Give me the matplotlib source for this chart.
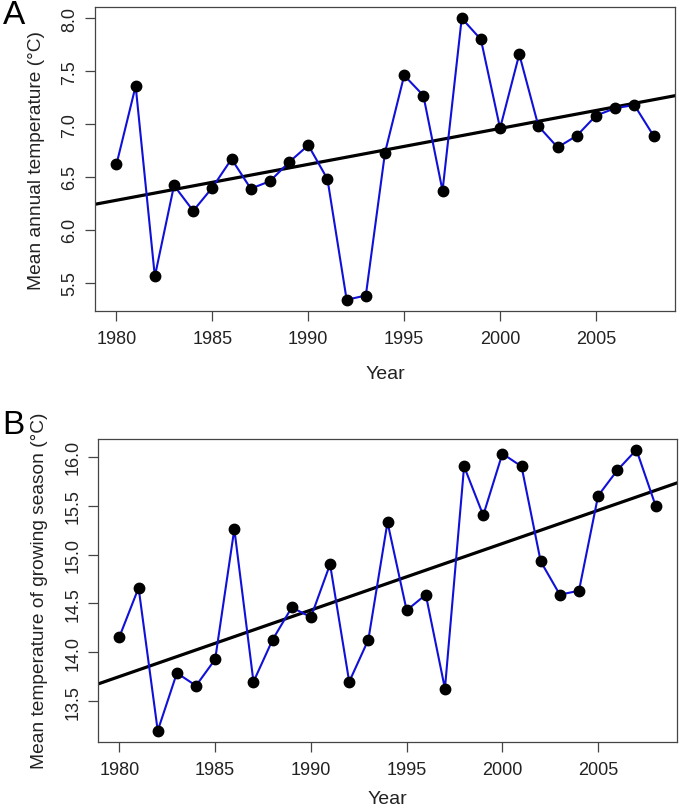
import numpy as np
import matplotlib
matplotlib.use('Agg')
import matplotlib.pyplot as plt

plt.rcParams['font.family'] = ['Liberation Sans', 'DejaVu Sans']

###===========================================================
# data
years = np.arange(1980, 2009)

annual_temp = [6.62, 7.36, 5.56, 6.42, 6.18, 6.40, 6.67, 6.39, 6.46, 6.64,
               6.80, 6.48, 5.34, 5.38, 6.73, 7.46, 7.27, 6.37, 8.00, 7.80,
               6.96, 7.66, 6.98, 6.78, 6.89, 7.08, 7.15, 7.18, 6.89]

growing_temp = [14.16, 14.66, 13.20, 13.79, 13.66, 13.93, 15.26, 13.70, 14.13, 14.46,
                14.36, 14.90, 13.70, 14.13, 15.33, 14.43, 14.59, 13.63, 15.90, 15.40,
                16.03, 15.90, 14.93, 14.59, 14.63, 15.60, 15.86, 16.07, 15.50]

xticks = [1980, 1985, 1990, 1995, 2000, 2005]
yticks_a = [5.5, 6.0, 6.5, 7.0, 7.5, 8.0]
yticks_b = [13.5, 14.0, 14.5, 15.0, 15.5, 16.0]

ylabel_a = 'Mean annual temperature (°C)'
ylabel_b = 'Mean temperature of growing season (°C)'


###===========================================================
def r_range(lo, hi):
    # R style 4% axis extension
    d = (hi - lo) * 0.04
    return lo - d, hi + d


def panel(ax, x, y, yticks, ylabel, xpad=13):
    x = np.asarray(x, float)
    y = np.asarray(y, float)
    xl = r_range(x.min(), x.max())
    yl = r_range(y.min(), y.max())

    # regression line across the whole plot area
    b, a = np.polyfit(x, y, 1)
    xx = np.array(xl)
    ax.plot(xx, a + b * xx, color='black', lw=2.3, zorder=2)

    ax.plot(x, y, color='#1010d8', lw=1.5, zorder=3)
    ax.plot(x, y, 'o', color='black', ms=7.5, zorder=4)

    ax.set_xlim(xl)
    ax.set_ylim(yl)
    ax.set_xticks(xticks)
    ax.set_yticks(yticks)
    ax.set_yticklabels(['%.1f' % v for v in yticks], rotation=90, va='center')
    ax.tick_params(direction='out', length=7, width=0.9, color='#444444',
                   labelsize=13, labelcolor='#222222', pad=5)
    ax.tick_params(axis='x', pad=7)
    for s in ax.spines.values():
        s.set_color('#444444')
        s.set_linewidth(0.9)
    ax.set_xlabel('Year', fontsize=14, color='#222222', labelpad=xpad)
    ax.set_ylabel(ylabel, fontsize=13.8, color='#222222', labelpad=12)


fig = plt.figure(figsize=(6.8, 8.12), dpi=100)

ax1 = fig.add_axes([95 / 680, 1 - 312 / 812, 580 / 680, 304 / 812])
panel(ax1, years, annual_temp, yticks_a, ylabel_a)

ax2 = fig.add_axes([98 / 680, 1 - 743 / 812, 579 / 680, 303.5 / 812])
panel(ax2, years, growing_temp, yticks_b, ylabel_b, xpad=8)

fig.text(3 / 680, 1 - 16 / 812, 'A', fontsize=24, va='center', ha='left')
fig.text(2 / 680, 1 - 425 / 812, 'B', fontsize=24, va='center', ha='left')

fig.savefig('out.png', dpi=100)
